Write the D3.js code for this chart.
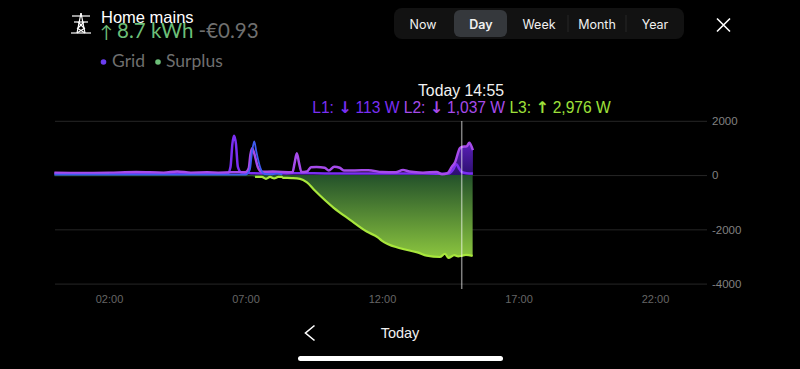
<!DOCTYPE html>
<html>
<head>
<meta charset="utf-8">
<script src="https://cdn.jsdelivr.net/npm/d3@7"></script>
<style>
  html, body { margin: 0; background: #000; overflow: hidden; }
  svg { display: block; }
  .tick text { font-family: "Liberation Sans", sans-serif; }
</style>
</head>
<body>
<div id="chart"></div>
<script>
// hours since midnight + watts
const l1Hours = [0, 1, 2, 3, 4, 5, 6, 6.35, 6.45, 6.52, 6.58, 6.65, 6.72, 6.85, 7.2, 7.6, 8, 8.5, 9, 10, 11, 12, 13, 14, 14.45, 14.6, 14.73, 14.82, 14.92, 15.1, 15.33];
const l1Values = [60, 55, 60, 55, 60, 55, 60, 70, 300, 1150, 1450, 1150, 300, 90, 70, 60, 70, 60, 70, 60, 60, 60, 60, 50, 60, 200, 400, 250, 113, 70, 60];

const l2Hours = [0, 1, 2, 3, 4, 4.5, 5, 5.6, 6, 6.5, 7, 7.12, 7.18, 7.24, 7.32, 7.45, 7.6, 8, 8.72, 8.8, 8.88, 8.96, 9.05, 9.25, 9.4, 9.6, 9.9, 10.05, 10.25, 10.45, 10.6, 11, 11.5, 12, 12.5, 12.77, 13, 13.5, 14, 14.2, 14.4, 14.56, 14.67, 14.85, 14.92, 15.1, 15.2, 15.3, 15.33];
const l2Values = [90, 80, 90, 110, 90, 130, 90, 100, 90, 100, 100, 250, 750, 990, 800, 300, 120, 130, 100, 450, 800, 450, 110, 130, 290, 300, 270, 170, 310, 270, 170, 170, 180, 110, 100, 190, 130, 90, 110, 30, 70, 310, 460, 990, 1037, 1060, 1190, 1000, 920];

const l3Hours = [0, 3, 6, 7, 7.16, 7.24, 7.32, 7.4, 7.55, 7.7, 8, 8.15, 8.35];
const l3Values = [15, 15, 15, 15, 200, 850, 1240, 850, 250, 40, 30, 50, 15];

const surplusHours = [0, 3, 6, 7.25, 7.35, 7.6, 7.75, 7.9, 8.05, 8.2, 8.33, 8.37, 8.7, 9, 9.24, 9.54, 10.22, 10.83, 11.44, 11.86, 11.99, 12.66, 13.33, 13.64, 14.12, 14.31, 14.43, 14.65, 14.79, 14.92, 15.07, 15.32];
const surplusValues = [-45, -45, -45, -45, -70, -70, -140, -70, -120, -70, -70, -100, -110, -140, -262, -571, -1198, -1651, -2082, -2304, -2414, -2696, -2860, -2970, -3020, -2900, -3050, -2950, -3000, -2976, -2940, -2980];

// purple fill under the biggest import at the end of the day
const fillHours = l2Hours.slice(38);
const fillValues = l2Values.slice(38);

const xTicks = [2, 7, 12, 17, 22];
const yTicks = [2000, 0, -2000, -4000];
const ranges = ['Now', 'Day', 'Week', 'Month', 'Year'];
const cursorHour = 14.92;
const surplusLineStart = 7.3;

const width = 800;
const height = 369;
const svg = d3.select('#chart').append('svg').attr('width', width).attr('height', height);

const xScale = d3.scaleLinear().domain([0, 24]).range([54.4, 709.6]);
const yScale = d3.scaleLinear().domain([-4000, 2000]).range([283.6, 120.8]);

const defs = svg.append('defs');
const greenGrad = defs.append('linearGradient').attr('id', 'greenFill').attr('x1', 0).attr('x2', 0).attr('y1', 0).attr('y2', 1);
greenGrad.append('stop').attr('offset', '0%').attr('stop-color', '#23512a');
greenGrad.append('stop').attr('offset', '100%').attr('stop-color', '#8cc63f');
const purpleGrad = defs.append('linearGradient').attr('id', 'purpleFill').attr('x1', 0).attr('x2', 0).attr('y1', 0).attr('y2', 1);
purpleGrad.append('stop').attr('offset', '0%').attr('stop-color', '#5a1fb8');
purpleGrad.append('stop').attr('offset', '100%').attr('stop-color', '#2c0f6e');

// axes
const gridlines = svg.append('g').attr('transform', 'translate(55, 0)')
  .call(d3.axisLeft(yScale).tickValues(yTicks).tickFormat('').tickSize(-652));
gridlines.select('.domain').remove();
gridlines.selectAll('line').attr('stroke', '#262626').attr('stroke-width', 1);

const yG = svg.append('g').attr('transform', 'translate(712, 0)')
  .call(d3.axisRight(yScale).tickValues(yTicks).tickSize(0).tickPadding(0).tickFormat((d) => String(d)));
yG.select('.domain').remove();
yG.selectAll('text').attr('fill', '#808080').attr('font-size', 11.5);

const xG = svg.append('g').attr('transform', 'translate(0, 292.5)')
  .call(d3.axisBottom(xScale).tickValues(xTicks).tickSize(0).tickPadding(3).tickFormat((d) => String(d).padStart(2, '0') + ':00'));
xG.select('.domain').remove();
xG.selectAll('text').attr('fill', '#666').attr('font-size', 11);

// areas
const zip = (hours, values) => hours.map((h, i) => ({ h, v: values[i] }));
const area = d3.area().x((d) => xScale(d.h)).y0(yScale(0)).y1((d) => yScale(d.v)).curve(d3.curveMonotoneX);
const line = d3.line().x((d) => xScale(d.h)).y((d) => yScale(d.v)).curve(d3.curveMonotoneX);

svg.append('path').attr('d', area(zip(surplusHours, surplusValues))).attr('fill', 'url(#greenFill)');
svg.append('path').attr('d', area(zip(fillHours, fillValues))).attr('fill', 'url(#purpleFill)');

// lines
svg.append('path')
  .attr('d', line(zip(surplusHours, surplusValues).filter((d) => d.h >= surplusLineStart)))
  .attr('fill', 'none').attr('stroke', '#a8e63c').attr('stroke-width', 2.2);
svg.append('path').attr('d', line(zip(l1Hours, l1Values))).attr('fill', 'none').attr('stroke', '#7a2ff2').attr('stroke-width', 2.5);
svg.append('path').attr('d', line(zip(l2Hours, l2Values))).attr('fill', 'none').attr('stroke', '#a64bea').attr('stroke-width', 2.5);
svg.append('path').attr('d', line(zip(l3Hours, l3Values))).attr('fill', 'none').attr('stroke', '#3f5cf2').attr('stroke-width', 1.8);

// cursor
svg.append('line')
  .attr('x1', xScale(cursorHour)).attr('x2', xScale(cursorHour))
  .attr('y1', 121).attr('y2', 289)
  .attr('stroke', '#fff').attr('stroke-opacity', 0.5).attr('stroke-width', 1.5);

// tooltip
const sans = '"Liberation Sans", sans-serif';
const arrowFont = '"DejaVu Sans", sans-serif';
svg.append('text').attr('x', 461).attr('y', 95.5).attr('text-anchor', 'middle')
  .attr('font-family', sans).attr('font-size', 15.8).attr('fill', '#f2f2f2').text('Today 14:55');
const tip = svg.append('text').attr('x', 461.5).attr('y', 112.5).attr('text-anchor', 'middle')
  .attr('font-family', sans).attr('font-size', 15.6);
const addTip = (color, label, arrow, value) => {
  tip.append('tspan').attr('fill', color).text(label + ' ');
  tip.append('tspan').attr('fill', color).attr('font-family', arrowFont).attr('font-weight', 'bold').attr('font-size', 16).text(arrow);
  tip.append('tspan').attr('fill', color).attr('dx', -0.5).text(' ' + value + ' ');
};
addTip('#7a2ff2', 'L1:', '↓', '113 W');
addTip('#a64bea', 'L2:', '↓', '1,037 W');
addTip('#9ee03a', 'L3:', '↑', '2,976 W');

// header
const lato = 'Lato, sans-serif';
const icon = svg.append('g').attr('stroke', '#fff').attr('stroke-width', 1.2).attr('fill', 'none');
[[71, 33, 91, 33], [72, 16, 90, 16], [74, 22, 88, 22], [81, 13, 77, 33], [81, 13, 85, 33], [78, 22, 84, 28], [84, 22, 78, 28], [77, 28, 85, 33], [85, 28, 77, 33]]
  .forEach(([x1, y1, x2, y2]) => icon.append('line').attr('x1', x1).attr('y1', y1).attr('x2', x2).attr('y2', y2));
const big = svg.append('text').attr('x', 100).attr('y', 38).attr('font-family', lato).attr('font-size', 20.5);
big.append('tspan').attr('fill', '#6cbf78').attr('font-size', 17).text('↑ ');
big.append('tspan').attr('fill', '#6cbf78').text('8.7 kWh');
big.append('tspan').attr('fill', '#6f6f6f').attr('dx', 5).text('-€0.93');
svg.append('text').attr('x', 101).attr('y', 23).attr('font-family', sans).attr('font-size', 16.5).attr('fill', '#fff').text('Home mains');
svg.append('circle').attr('cx', 103.5).attr('cy', 62).attr('r', 2.8).attr('fill', '#6a3df0');
svg.append('circle').attr('cx', 158).attr('cy', 62).attr('r', 2.8).attr('fill', '#6cbf78');
svg.append('text').attr('x', 112).attr('y', 67).attr('font-family', lato).attr('font-size', 17.5).attr('fill', '#6f6f6f').text('Grid');
svg.append('text').attr('x', 166).attr('y', 67).attr('font-family', lato).attr('font-size', 17.5).attr('fill', '#6f6f6f').text('Surplus');

// range picker
const pickerCenter = d3.scalePoint().domain(ranges).range([423, 655]);
svg.append('rect').attr('x', 394).attr('y', 8).attr('width', 290).attr('height', 31).attr('rx', 8).attr('fill', '#121212');
svg.append('rect').attr('x', 454).attr('y', 10).attr('width', 53).attr('height', 27).attr('rx', 6).attr('fill', '#35383c');
[568, 626].forEach((x) => svg.append('line').attr('x1', x).attr('x2', x).attr('y1', 15).attr('y2', 32).attr('stroke', '#262626'));
svg.selectAll('.range').data(ranges).join('text').attr('class', 'range')
  .attr('x', (d) => pickerCenter(d)).attr('y', 28.5).attr('text-anchor', 'middle')
  .attr('font-family', 'Inter, sans-serif').attr('font-size', 12.5)
  .attr('font-weight', (d) => d === 'Day' ? 600 : 400).attr('fill', '#f0f0f0').text((d) => d);
svg.append('path').attr('d', 'M717 18.5L730 31.5M730 18.5L717 31.5').attr('stroke', '#fff').attr('stroke-width', 1.6).attr('fill', 'none');

// footer
svg.append('path').attr('d', 'M314.5 325.5L305.5 333L314.5 340.5').attr('stroke', '#fff').attr('stroke-width', 1.6).attr('fill', 'none');
svg.append('text').attr('x', 400).attr('y', 338).attr('text-anchor', 'middle').attr('font-family', sans).attr('font-size', 14.5).attr('fill', '#f0f0f0').text('Today');
svg.append('rect').attr('x', 298).attr('y', 356).attr('width', 205).attr('height', 5).attr('rx', 2.5).attr('fill', '#fff');
</script>
</body>
</html>
